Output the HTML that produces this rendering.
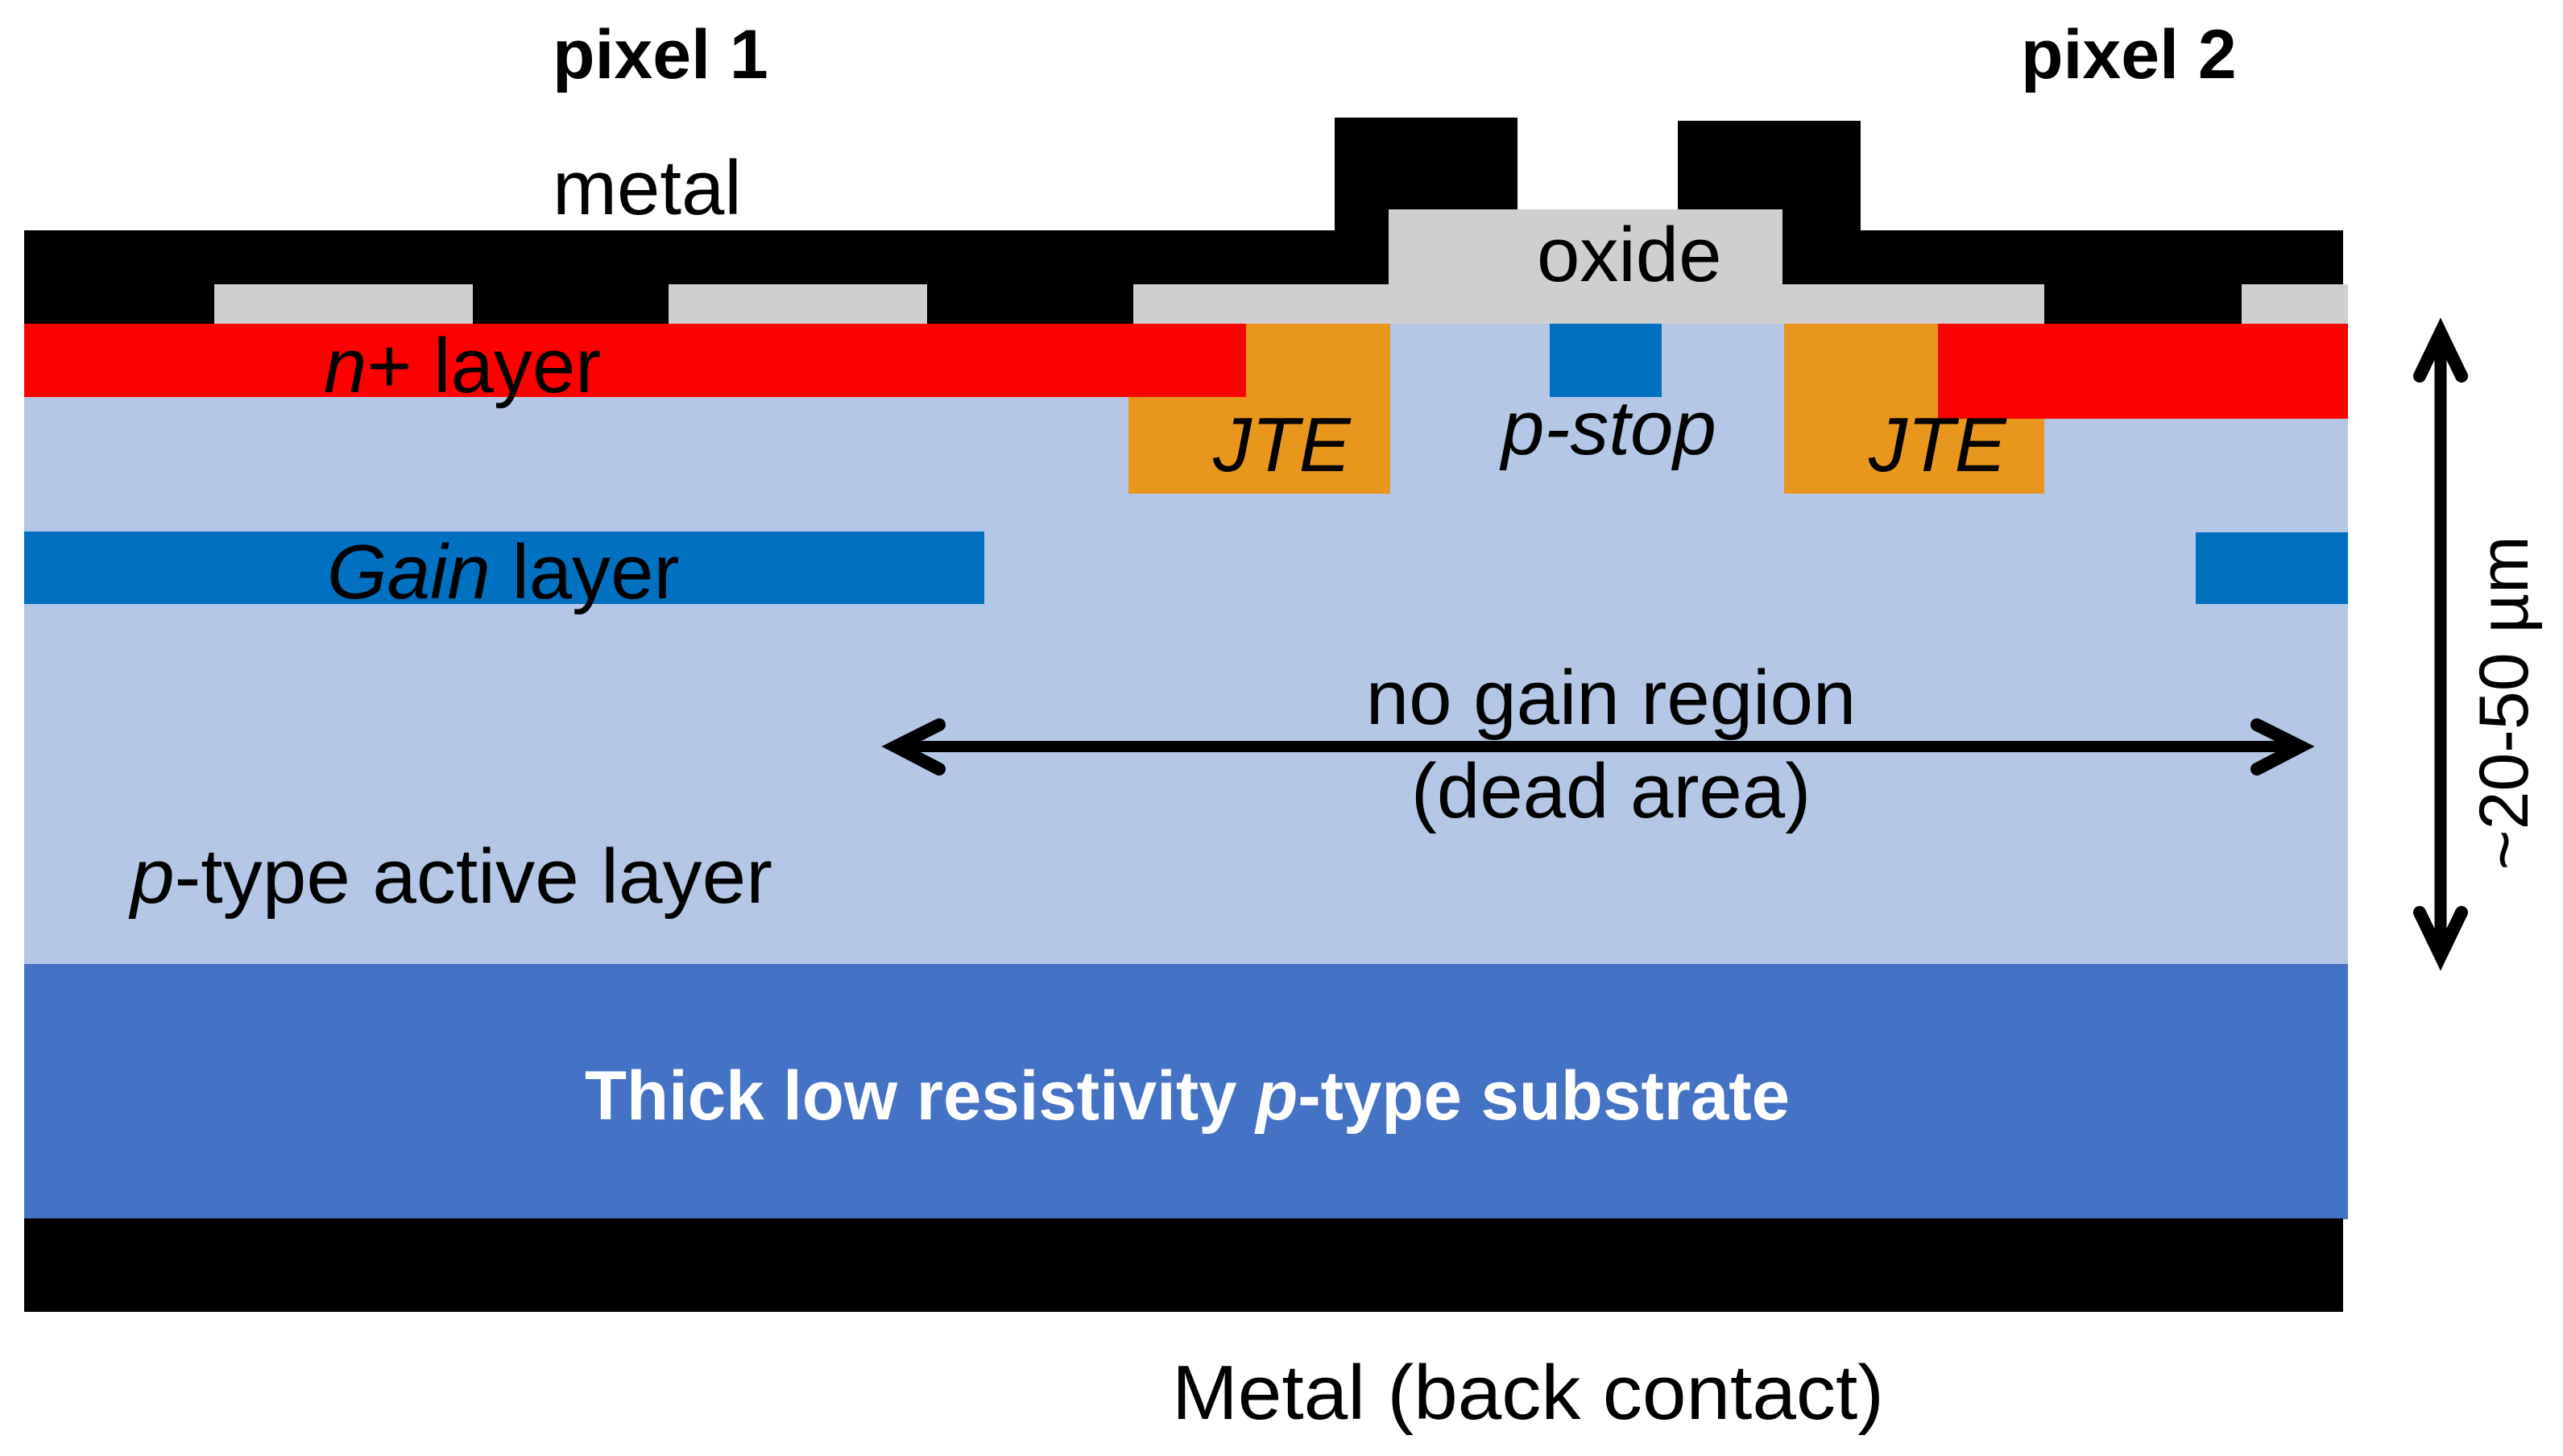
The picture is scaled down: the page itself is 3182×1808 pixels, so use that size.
<!DOCTYPE html>
<html><head><meta charset="utf-8"><style>html,body{margin:0;padding:0;background:#fff;}svg{display:block;}</style></head>
<body>
<svg width="3182" height="1808" viewBox="0 0 3182 1808" xmlns="http://www.w3.org/2000/svg" font-family="Liberation Sans, Arial, sans-serif">
<rect x="30" y="402" width="2885" height="796" fill="#b4c7e7"/>
<rect x="30" y="1197" width="2885" height="317" fill="#4472c4"/>
<rect x="30" y="1513" width="2879" height="116" fill="#000"/>
<rect x="30" y="286" width="2879" height="116" fill="#000"/>
<rect x="1657" y="146" width="227" height="160" fill="#000"/>
<rect x="2083" y="150" width="227" height="156" fill="#000"/>
<rect x="1724" y="260" width="489" height="142" fill="#d0cece"/>
<rect x="266" y="353" width="321" height="49" fill="#d0cece"/>
<rect x="830" y="353" width="321" height="49" fill="#d0cece"/>
<rect x="1407" y="353" width="1131" height="49" fill="#d0cece"/>
<rect x="2783" y="353" width="132" height="49" fill="#d0cece"/>
<rect x="1401" y="402" width="325" height="211" fill="#e8961c"/>
<rect x="2215" y="402" width="323" height="211" fill="#e8961c"/>
<rect x="30" y="402" width="1517" height="91" fill="#ff0000"/>
<rect x="2406" y="402" width="509" height="118" fill="#ff0000"/>
<rect x="1924" y="402" width="139" height="91" fill="#0070c0"/>
<rect x="30" y="660" width="1192" height="90" fill="#0070c0"/>
<rect x="2726" y="661" width="189" height="89" fill="#0070c0"/>
<line x1="1118" y1="927" x2="2850" y2="927" stroke="#000" stroke-width="14"/>
<polyline points="1166,900 1112,927 1166,955" fill="none" stroke="#000" stroke-width="16" stroke-linecap="round" stroke-linejoin="miter" stroke-miterlimit="10"/>
<polyline points="2802,900 2856,927 2802,955" fill="none" stroke="#000" stroke-width="16" stroke-linecap="round" stroke-linejoin="miter" stroke-miterlimit="10"/>
<line x1="3030" y1="416" x2="3030" y2="1184" stroke="#000" stroke-width="15"/>
<polyline points="3004,467 3030,413 3056,467" fill="none" stroke="#000" stroke-width="16" stroke-linecap="round" stroke-linejoin="miter" stroke-miterlimit="10"/>
<polyline points="3004,1133 3030,1187 3056,1133" fill="none" stroke="#000" stroke-width="16" stroke-linecap="round" stroke-linejoin="miter" stroke-miterlimit="10"/>
<g font-size="96" fill="#000">
<text x="686" y="97" font-weight="bold" font-size="86">pixel 1</text>
<text x="2509" y="97" font-weight="bold" font-size="86">pixel 2</text>
<text x="686" y="266">metal</text>
<text x="1908" y="349">oxide</text>
<text x="402" y="487"><tspan font-style="italic">n</tspan>+ layer</text>
<text x="1506" y="585" font-style="italic">JTE</text>
<text x="2320" y="585" font-style="italic">JTE</text>
<text x="1864" y="564" font-style="italic">p-stop</text>
<text x="406" y="743"><tspan font-style="italic">Gain</tspan> layer</text>
<text x="2000" y="899" text-anchor="middle">no gain region</text>
<text x="2000" y="1015" text-anchor="middle">(dead area)</text>
<text x="162" y="1121" textLength="797" lengthAdjust="spacingAndGlyphs"><tspan font-style="italic">p</tspan>-type active layer</text>
<text x="1455" y="1762" textLength="884" lengthAdjust="spacingAndGlyphs">Metal (back contact)</text>
<text x="1474" y="1390" text-anchor="middle" font-weight="bold" fill="#fff" font-size="86" textLength="1496" lengthAdjust="spacingAndGlyphs">Thick low resistivity <tspan font-style="italic">p</tspan>-type substrate</text>
<text transform="translate(3138,873) rotate(-90)" text-anchor="middle" font-size="86">~20-50 µm</text>
</g>
</svg>
</body></html>
